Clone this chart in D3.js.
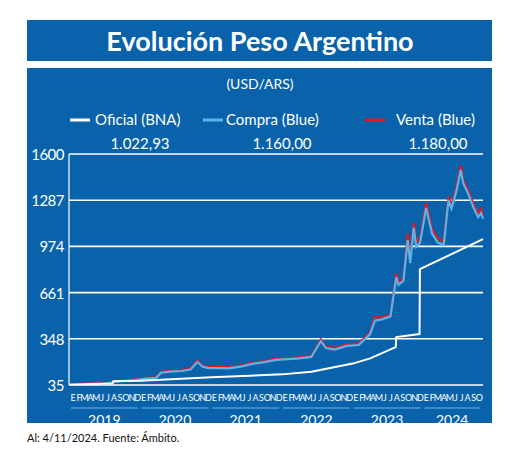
<!DOCTYPE html><html><head><meta charset="utf-8">
<script src="https://cdn.jsdelivr.net/npm/d3@7"></script>
<style>body{margin:0;background:#fff}svg{font-family:Lato,"Open Sans",sans-serif}</style></head><body>
<svg id="c" width="520" height="469"></svg>
<script>
const dates=["2019-01-01","2019-03-01","2019-05-01","2019-07-01","2019-08-12","2019-08-20","2019-10-01","2019-12-01",
"2020-02-01","2020-03-20","2020-04-15","2020-06-01","2020-08-01","2020-09-15","2020-10-20","2020-11-15","2020-12-15",
"2021-02-01","2021-04-01","2021-06-01","2021-08-01","2021-10-01","2021-12-01",
"2022-02-01","2022-04-01","2022-06-01","2022-07-20","2022-08-15","2022-10-01","2022-12-01",
"2023-02-01","2023-04-01","2023-04-25","2023-06-01","2023-07-15","2023-08-14","2023-08-25","2023-09-20","2023-10-12","2023-10-25","2023-11-12","2023-11-25","2023-12-15","2024-01-15","2024-02-15","2024-03-15","2024-04-15","2024-05-10","2024-05-25","2024-06-20","2024-07-12","2024-07-25","2024-08-20","2024-09-15","2024-10-10","2024-10-25","2024-11-04"];
const compra=[37,40,43,44,52,58,62,68,
78,82,118,125,130,140,191,160,150,
150,148,160,178,190,205,
210,215,225,333,285,275,300,
306,380,470,480,500,767,713,740,1017,861,1099,970,1000,1234,1060,1000,984,1288,1230,1350,1492,1400,1330,1240,1173,1200,1160];
const venta=[39,43,46,48,56,62,66,72,
82,86,125,132,135,148,200,165,157,
157,156,168,185,196,212,
218,222,232,345,295,285,310,
316,392,495,492,512,790,730,760,1060,890,1130,1000,1030,1270,1090,1030,1004,1310,1255,1375,1520,1425,1350,1265,1200,1225,1180];
const ofDates=["2019-01-01","2019-08-09","2019-08-13","2020-01-01","2021-01-01","2022-01-01","2022-06-01","2023-01-01","2023-04-01","2023-08-11","2023-08-14","2023-12-12","2023-12-14","2024-11-04"];
const oficial=[37,45,60,63,88,107,125,180,215,292,360,380,820,1023];
const yTicks=[35,348,661,974,1287,1600];
const monthLetters=["E","F","M","A","M","J","J","A","S","O","N","D"];
const years=["2019","2020","2021","2022","2023","2024"];
const legend=[["Oficial (BNA)","1.022,93","#ffffff"],["Compra (Blue)","1.160,00","#5cb3ea"],["Venta (Blue)","1.180,00","#e01b24"]];

const svg=d3.select("#c"),bg="#0a62aa";
svg.append("rect").attr("x",27).attr("y",20).attr("width",465).attr("height",41).attr("fill",bg);
svg.append("rect").attr("x",27).attr("y",68).attr("width",465).attr("height",355).attr("fill",bg);
svg.append("text").attr("x",260).attr("y",51).attr("text-anchor","middle").attr("fill","#fff").attr("font-size",27).attr("font-weight","bold").text("Evolución Peso Argentino");
svg.append("text").attr("x",260).attr("y",89).attr("text-anchor","middle").attr("fill","#fff").attr("font-size",14).text("(USD/ARS)");
const lx=[[70,95,140],[203,226,282],[365,396,438]];
legend.forEach((l,i)=>{
 svg.append("line").attr("x1",lx[i][0]).attr("x2",lx[i][0]+20).attr("y1",120).attr("y2",120).attr("stroke",l[2]).attr("stroke-width",3);
 svg.append("text").attr("x",lx[i][1]).attr("y",125).attr("fill","#fff").attr("font-size",15).text(l[0]);
 svg.append("text").attr("x",lx[i][2]).attr("y",149).attr("text-anchor","middle").attr("fill","#fff").attr("font-size",15).text(l[1]);
});
const p=d3.timeParse("%Y-%m-%d");
const x=d3.scaleTime().domain([p("2019-01-01"),p("2024-11-04")]).range([70,483]);
const y=d3.scaleLinear().domain([35,1600]).range([385,154]);
yTicks.forEach(t=>{
 svg.append("line").attr("x1",69).attr("x2",483).attr("y1",y(t)).attr("y2",y(t)).attr("stroke","#fff").attr("stroke-width",1.6);
 svg.append("text").attr("x",64).attr("y",y(t)+6).attr("text-anchor","end").attr("fill","#fff").attr("font-size",15).attr("letter-spacing",-0.5).text(t);
});
svg.append("line").attr("x1",69).attr("x2",69).attr("y1",154).attr("y2",385).attr("stroke","#fff").attr("stroke-width",1.2);
const ln=d3.line().x(d=>x(d[0])).y(d=>y(d[1]));
const pts=(ds,vs)=>ds.map((d,i)=>[p(d),vs[i]]);
svg.append("path").attr("d",ln(pts(dates,venta))).attr("fill","none").attr("stroke","#e01b24").attr("stroke-width",2.2);
svg.append("path").attr("d",ln(pts(dates,compra))).attr("fill","none").attr("stroke","#5cb3ea").attr("stroke-width",2.2);
svg.append("path").attr("d",ln(pts(ofDates,oficial))).attr("fill","none").attr("stroke","#fff").attr("stroke-width",2);
for(let m=0;m<70;m++){
 svg.append("text").attr("x",x(new Date(2019+Math.floor(m/12),m%12,1))+3).attr("y",401).attr("text-anchor","middle").attr("fill","#fff").attr("font-size",9).attr("transform-origin","center").text(monthLetters[m%12]);
}
years.forEach((yr,i)=>{
 const a=x(new Date(2019+i,0,1))+1,b=Math.min(x(new Date(2020+i,0,1))-3,480);
 svg.append("line").attr("x1",a).attr("x2",b).attr("y1",408).attr("y2",408).attr("stroke","#6fb3e8").attr("stroke-width",1);
 svg.append("text").attr("x",(a+b)/2).attr("y",425).attr("text-anchor","middle").attr("fill","#fff").attr("font-size",14).text(yr);
});
svg.append("text").attr("x",27).attr("y",442).attr("fill","#111").attr("font-size",11).text("Al: 4/11/2024. Fuente: Ámbito.");
</script></body></html>
